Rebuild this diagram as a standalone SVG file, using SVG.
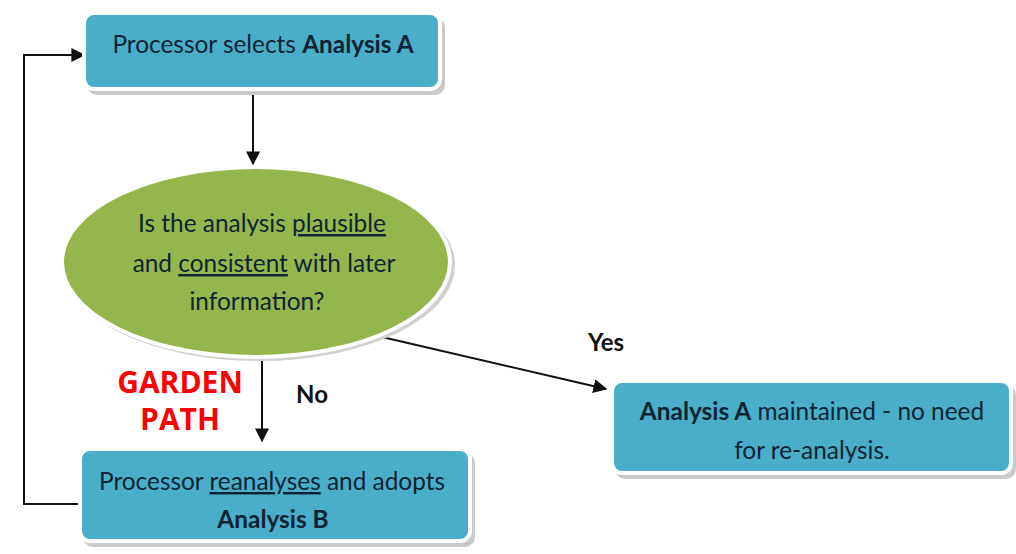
<svg xmlns="http://www.w3.org/2000/svg" width="1016" height="554" viewBox="0 0 1016 554">
<defs>
<style>
.box{fill:#4aadca;stroke:#ffffff;stroke-width:4}
.sh{fill:#c9c9c9}
.t{font-family:Lato,"Open Sans",sans-serif;font-size:24.4px;fill:#0f2433;text-anchor:middle}
.b{font-weight:bold}
.lbl{font-family:Lato,"Open Sans",sans-serif;font-size:24px;font-weight:bold;fill:#111;text-anchor:middle}
.red{font-family:"Open Sans",sans-serif;font-size:30px;font-weight:bold;fill:#ff0000;text-anchor:middle}
.ln{fill:none;stroke:#111;stroke-width:2}
</style>
<marker id="ah2" viewBox="0 0 10 10" refX="9" refY="5" markerWidth="7" markerHeight="7" orient="auto">
<path d="M0,0 L10,5 L0,10 z" fill="#111"/>
</marker>
</defs>
<rect width="1016" height="554" fill="#ffffff"/>
<g id="connectors">
<line class="ln" x1="253" y1="93" x2="253" y2="164" marker-end="url(#ah2)"/>
<line class="ln" x1="262" y1="350" x2="262" y2="441" marker-end="url(#ah2)"/>
<line class="ln" x1="382" y1="337" x2="606" y2="389" marker-end="url(#ah2)"/>
<polyline class="ln" points="80,504 24,504 24,55 84,55" marker-end="url(#ah2)"/>
</g>
<g id="node-select">
<rect class="sh" x="87" y="17" width="358" height="78" rx="10"/>
<rect class="box" x="84" y="13" width="356" height="76" rx="10"/>
<text class="t" x="263" y="53">Processor selects <tspan class="b">Analysis A</tspan></text>
</g>
<g id="node-question">
<ellipse cx="259" cy="265" rx="196" ry="96" fill="#d0d0d0"/>
<ellipse cx="256" cy="262" rx="194" ry="95" fill="#95b64c" stroke="#ffffff" stroke-width="4"/>
<text class="t" x="262" y="232">Is the analysis <tspan text-decoration="underline">plausible</tspan></text>
<text class="t" x="264" y="272">and <tspan text-decoration="underline">consistent</tspan> with later</text>
<text class="t" x="257" y="310">information?</text>
</g>
<g id="node-reanalyse">
<rect class="sh" x="83" y="453" width="392" height="94" rx="10"/>
<rect class="box" x="80" y="449" width="390" height="92" rx="10"/>
<text class="t" x="272" y="490">Processor <tspan text-decoration="underline">reanalyses</tspan> and adopts</text>
<text class="t b" x="273" y="528">Analysis B</text>
</g>
<g id="node-maintained">
<rect class="sh" x="615" y="385" width="401" height="94" rx="10"/>
<rect class="box" x="612" y="381" width="399" height="92" rx="10"/>
<text class="t" x="812" y="420"><tspan class="b">Analysis A</tspan> maintained - no need</text>
<text class="t" x="812" y="459">for re-analysis.</text>
</g>
<g id="labels">
<text class="lbl" x="606" y="351">Yes</text>
<text class="lbl" x="312" y="403">No</text>
<text class="red" x="180" y="393">GARDEN</text>
<text class="red" x="180" y="430">PATH</text>
</g>
</svg>
